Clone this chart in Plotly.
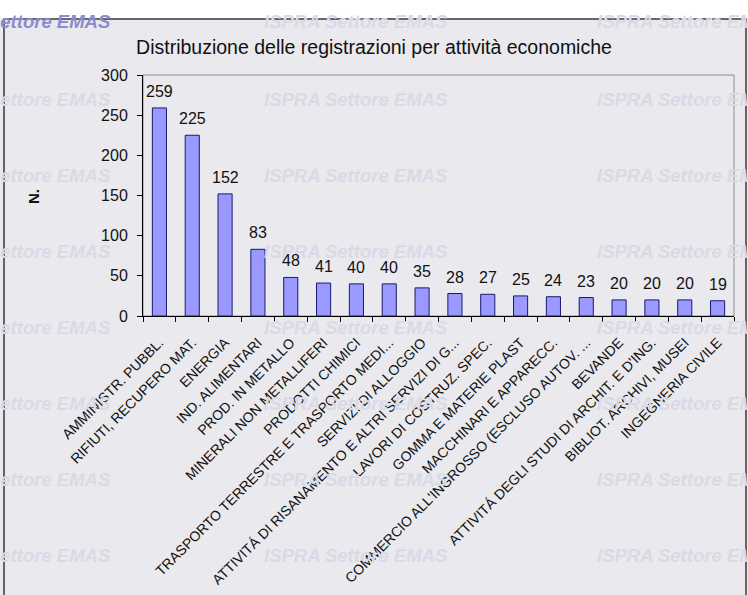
import plotly.graph_objects as go

categories = [
    "AMMINISTR. PUBBL.",
    "RIFIUTI, RECUPERO MAT.",
    "ENERGIA",
    "IND. ALIMENTARI",
    "PROD. IN METALLO",
    "MINERALI NON METALLIFERI",
    "PRODOTTI CHIMICI",
    "TRASPORTO TERRESTRE E TRASPORTO MEDI...",
    "SERVIZI DI ALLOGGIO",
    "ATTIVITÁ DI RISANAMENTO E ALTRI SERVIZI DI G...",
    "LAVORI DI COSTRUZ. SPEC.",
    "GOMMA E MATERIE PLAST",
    "MACCHINARI E APPARECC.",
    "COMMERCIO ALL'INGROSSO (ESCLUSO AUTOV. ...",
    "BEVANDE",
    "ATTIVITÁ DEGLI STUDI DI ARCHIT. E D'ING.",
    "BIBLIOT. ARCHIVI, MUSEI",
    "INGEGNERIA CIVILE",
]
values = [259, 225, 152, 83, 48, 41, 40, 40, 35, 28, 27, 25, 24, 23, 20, 20, 20, 19]
y_ticks = [0, 50, 100, 150, 200, 250, 300]

title_text = "Distribuzione delle registrazioni per attività economiche"
y_title = "N."
watermark = "ISPRA Settore EMAS"

FIG_W, FIG_H = 748, 595
L, R, T, B = 143, 734, 75, 316
PW, PH = R - L, B - T


def px(x):
    return (x - L) / PW


def py(y):
    return (B - y) / PH


BG = "#E9E9EE"
FONT = "Liberation Sans, Arial, sans-serif"

fig = go.Figure()
fig.add_trace(go.Bar(
    x=categories,
    y=values,
    width=0.43,
    marker=dict(color="#9999FF", line=dict(color="#1A1A6E", width=1)),
    hoverinfo="x+y",
))

annotations = []
# watermark grid (drawn first so other texts sit on top)
wm_rows = [22, 99, 175, 251, 327, 403, 479, 555]
wm_cols = [-75, 262, 595]
for r in wm_rows:
    for c in wm_cols:
        col = "#DADAE7"
        if r == 22 and c == -75:
            col = "#8C8CD0"
        annotations.append(dict(
            x=px(c), y=py(r), xref="paper", yref="paper", text=watermark,
            showarrow=False, xanchor="left", yanchor="middle",
            font=dict(family=FONT, size=18.5, color=col, weight="bold", style="italic"),
        ))

# data labels
for c, v in zip(categories, values):
    annotations.append(dict(
        x=c, y=v, xref="x", yref="y", text=str(v), showarrow=False,
        yanchor="bottom", xanchor="center", yshift=6,
        font=dict(family=FONT, size=16, color="#111111"),
    ))

# y-axis title
annotations.append(dict(
    x=px(33), y=py(196), xref="paper", yref="paper", text="<b>" + y_title + "</b>",
    showarrow=False, textangle=-90, xanchor="center", yanchor="middle",
    font=dict(family=FONT, size=15, color="#111111"),
))

shapes = [
    dict(type="rect", xref="paper", yref="paper", x0=px(-20), x1=px(770), y0=py(19), y1=py(-20),
         fillcolor="white", line=dict(width=0), layer="below"),
    dict(type="rect", xref="paper", yref="paper", x0=px(4), x1=px(746), y0=py(640), y1=py(19),
         fillcolor=BG, line=dict(color="#3A3A3A", width=1.5), layer="below"),
    dict(type="rect", xref="paper", yref="paper", x0=0, x1=1, y0=0, y1=1,
         fillcolor="rgba(0,0,0,0)", line=dict(color="#8C8C8C", width=1), layer="below"),
]

fig.update_layout(
    width=FIG_W, height=FIG_H,
    margin=dict(l=L, r=FIG_W - R, t=T, b=FIG_H - B, pad=0),
    paper_bgcolor=BG,
    plot_bgcolor="rgba(0,0,0,0)",
    showlegend=False,
    title=dict(text=title_text, x=0.5, xref="container", xanchor="center",
               y=1 - 47 / FIG_H, yref="container", yanchor="middle",
               font=dict(family=FONT, size=19.5, color="#111111")),
    xaxis=dict(
        type="category", tickangle=-45, tickson="boundaries", ticks="outside",
        ticklen=5, tickcolor="black", showline=True, linecolor="black", linewidth=1,
        showgrid=False, tickfont=dict(family=FONT, size=14, color="#111111"),
        ticklabelstandoff=12, automargin=False,
    ),
    yaxis=dict(
        range=[0, 300], tickvals=y_ticks, ticks="outside", ticklen=5,
        tickcolor="black", showline=True, linecolor="black", linewidth=1,
        showgrid=False, zeroline=False, ticklabelstandoff=6,
        tickfont=dict(family=FONT, size=16, color="#111111"), automargin=False,
    ),
    annotations=annotations,
    shapes=shapes,
    bargap=0.57,
)

fig.write_html("out.html")
